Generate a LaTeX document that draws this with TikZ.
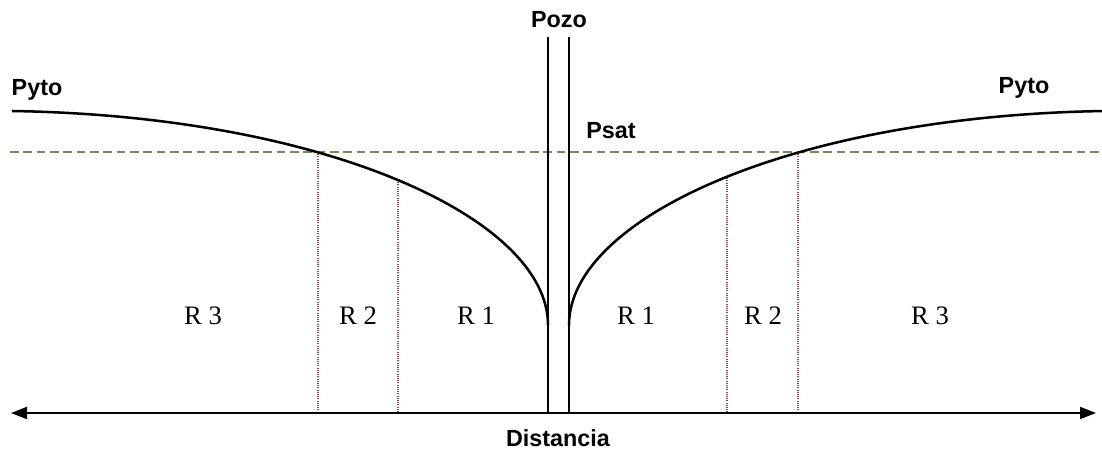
\documentclass[tikz,border=0pt]{standalone}
\usepackage{fontspec}
\setmainfont{Liberation Serif}
\setsansfont{Liberation Sans}
\usetikzlibrary{arrows.meta}
\definecolor{satgreen}{RGB}{120,136,90}
\definecolor{zonered}{RGB}{145,70,70}
\begin{document}
\begin{tikzpicture}[x=0.75pt,y=-0.75pt,
  curve/.style={line width=1.9pt,black},
  wellline/.style={line width=1.4pt,black},
  satline/.style={line width=1.5pt,satgreen,dash pattern=on 6.5pt off 3.5pt},
  zoneline/.style={line width=0.8pt,zonered,dash pattern=on 0.75pt off 0.9pt},
  axisline/.style={line width=1.4pt,black,{Triangle[length=12pt,width=9pt]}-{Triangle[length=12pt,width=9pt]}},
  lbl/.style={font=\sffamily\bfseries\fontsize{17.5}{19}\selectfont,anchor=base,inner sep=0pt},
  zone/.style={font=\fontsize{20}{22}\selectfont,anchor=base,inner sep=0pt}]
\useasboundingbox (0,0) rectangle (1102,450);
% coordinates
\coordinate (axL) at (11,413);
\coordinate (axR) at (1096,413);
\coordinate (wlTop) at (548,37);
\coordinate (wlBot) at (548,413);
\coordinate (wrTop) at (569,37);
\coordinate (wrBot) at (569,413);
\coordinate (satL) at (10,152);
\coordinate (satR) at (1102,152);
% saturation pressure line
\draw[satline] (satL) -- (satR);
% zone boundaries
\coordinate (zA1) at (318,152); \coordinate (zA2) at (318,413);
\coordinate (zB1) at (398,180); \coordinate (zB2) at (398,413);
\coordinate (zC1) at (727,176); \coordinate (zC2) at (727,413);
\coordinate (zD1) at (798,152); \coordinate (zD2) at (798,413);
\draw[zoneline] (zA1) -- (zA2);
\draw[zoneline] (zB1) -- (zB2);
\draw[zoneline] (zC1) -- (zC2);
\draw[zoneline] (zD1) -- (zD2);
% pressure profiles
\coordinate (cL0) at (12,111);
\coordinate (cL1) at (548,325);
\coordinate (cR0) at (569,325);
\coordinate (cR1) at (1104,111);
\draw[curve] (cL0) .. controls (327,116) and (548,219) .. (cL1);
\draw[curve] (cR0) .. controls (569,219) and (790,116) .. (cR1);
% well
\draw[wellline] (wlTop) -- (wlBot) -- (wrBot) -- (wrTop);
% axis
\draw[axisline] (axL) -- (axR);
% labels
\node[lbl] (pozo) at (559,27) {Pozo};
\node[lbl] (psat) at (611,138) {Psat};
\node[lbl] (pytoL) at (37,95) {Pyto};
\node[lbl] (pytoR) at (1024,93) {Pyto};
\node[lbl] (dist) at (558,446) {Distancia};
\node[zone] (r3l) at (203,324) {R 3};
\node[zone] (r2l) at (358,324) {R 2};
\node[zone] (r1l) at (476,324) {R 1};
\node[zone] (r1r) at (636,324) {R 1};
\node[zone] (r2r) at (763,324) {R 2};
\node[zone] (r3r) at (930,324) {R 3};
\end{tikzpicture}
\end{document}
